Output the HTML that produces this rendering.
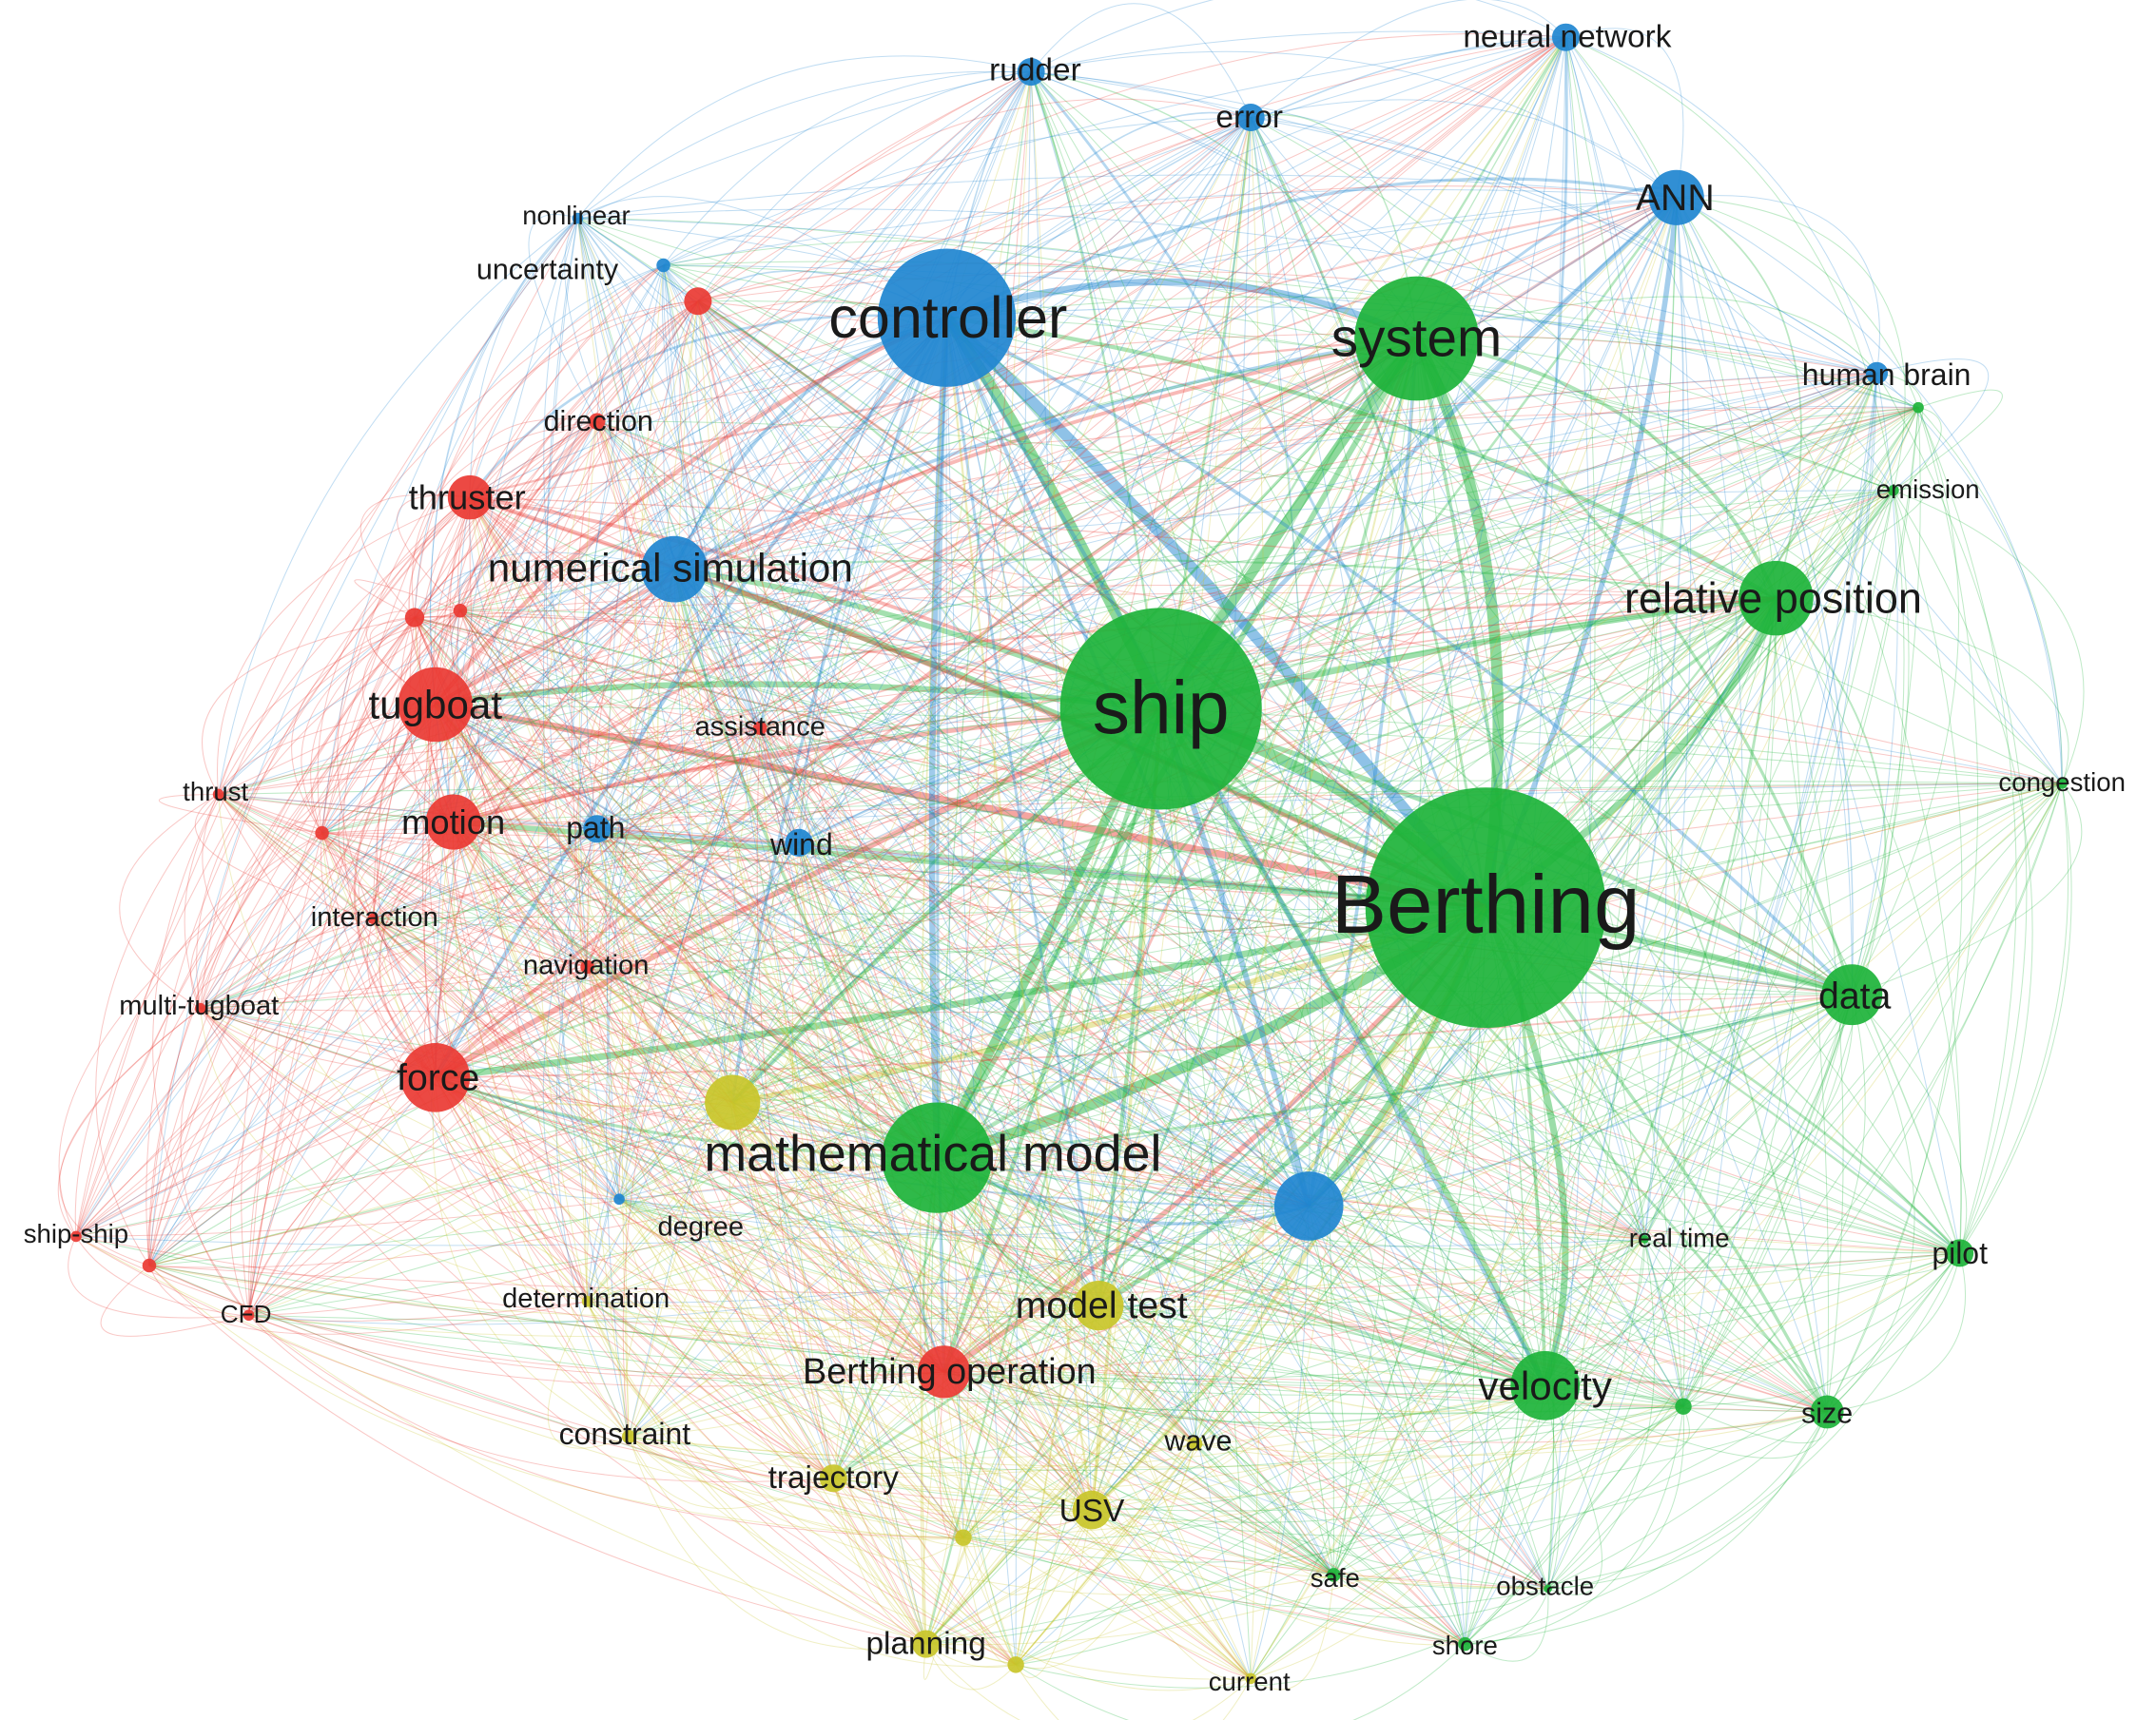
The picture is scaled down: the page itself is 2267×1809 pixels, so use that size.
<!DOCTYPE html>
<html><head><meta charset="utf-8">
<style>
html,body{margin:0;padding:0;background:#fff;width:2267px;height:1809px;overflow:hidden;}
svg{display:block;overflow:hidden;}
text{font-family:"Liberation Sans","DejaVu Sans",sans-serif;fill:#1a1a1a;text-anchor:middle;dominant-baseline:central;}
</style></head><body>
<svg id="s" width="2267" height="1809" viewBox="0 0 1560 1245" preserveAspectRatio="none" xmlns="http://www.w3.org/2000/svg">
<rect width="1560" height="1245" fill="#fff"/>
<g id="edges" fill="none"></g>
<g id="nodes"></g>
<g id="labels"></g>
</svg>
<script>
var C={g:"#1db33a",b:"#1f86d0",r:"#ea3a33",y:"#c9c62a"};
var N=[
[1075,657,87,"g"],[840,513,73,"g"],[1025,245,45,"g"],[678,838,40,"g"],[1285,433,27,"g"],[1340,720,22,"g"],[1118,1003,25,"g"],[1418,907,10,"g"],[1322,1022,12,"g"],[965,1140,5,"g"],[1060,1190,5,"g"],[1218,1018,6,"g"],[1492,567,4,"g"],[1370,355,4,"g"],[1388,295,4,"g"],[1120,1150,3,"g"],[1190,897,3,"g"],
[685,230,50,"b"],[488,412,24,"b"],[1133,27,10,"b"],[1213,143,20,"b"],[905,85,10,"b"],[746,52,10,"b"],[1358,270,8,"b"],[480,192,5,"b"],[418,158,4,"b"],[432,600,10,"b"],[578,610,10,"b"],[947,873,25,"b"],[448,868,4,"b"],
[340,360,16,"r"],[315,510,27,"r"],[328,595,20,"r"],[315,780,25,"r"],[432,305,6,"r"],[505,218,10,"r"],[300,447,7,"r"],[333,442,5,"r"],[158,575,4,"r"],[233,603,5,"r"],[270,665,4,"r"],[425,700,5,"r"],[145,730,4,"r"],[55,895,4,"r"],[108,916,5,"r"],[180,952,4,"r"],[683,993,19,"r"],[550,527,5,"r"],
[530,798,20,"y"],[795,945,18,"y"],[790,1093,14,"y"],[603,1070,10,"y"],[670,1190,10,"y"],[735,1205,6,"y"],[697,1113,6,"y"],[455,1040,5,"y"],[865,1045,5,"y"],[905,1215,4,"y"],[425,942,4,"y"]
];
var L=[["Berthing",1075,655,60],["ship",840,512,54],["controller",686,230,42],["system",1025,245,39],["mathematical model",675,835,37],["relative position",1283,433,31],["numerical simulation",485,411,29],["tugboat",315,510,29],["velocity",1118,1003,29],["data",1342,721,27],["force",317,780,27],["motion",328,595,25],["thruster",338,360,25],["model test",797,945,27],["Berthing operation",687,993,26],["ANN",1212,143,27],["neural network",1134,27,23],["rudder",749,51,23],["error",904,85,23],["human brain",1365,271,22],["emission",1395,354,19],["congestion",1492,566,19],["pilot",1418,907,22],["size",1322,1023,21],["real time",1215,896,19],["safe",966,1142,19],["obstacle",1118,1148,19],["shore",1060,1191,19],["current",904,1217,19],["planning",670,1190,23],["USV",790,1094,23],["wave",867,1043,21],["trajectory",603,1070,23],["constraint",452,1038,22],["determination",424,940,20],["degree",507,888,20],["CFD",178,951,18],["ship-ship",55,893,19],["multi-tugboat",144,728,20],["navigation",424,699,20],["interaction",271,664,20],["thrust",156,573,19],["path",431,599,22],["wind",580,611,22],["assistance",550,526,20],["direction",433,305,21],["uncertainty",396,195,21],["nonlinear",417,156,19]];
var ns="http://www.w3.org/2000/svg",E=document.getElementById("edges"),seed=7;
function rnd(){seed=(seed*16807)%2147483647;return seed/2147483647;}
var cx=780,cy=640;
for(var i=0;i<N.length;i++)for(var j=i+1;j<N.length;j++){
 var a=N[i],b=N[j];var w=(a[2]+b[2]);var p=Math.min(0.97,0.35+w/50);
 if(a[3]==b[3])p=Math.min(1,p+0.3);
 if(rnd()>p)continue;
 var mx=(a[0]+b[0])/2,my=(a[1]+b[1])/2,dx=mx-cx,dy=my-cy;
 var k=0.08+rnd()*0.18;var qx=mx+dx*k,qy=my+dy*k;
 var path=document.createElementNS(ns,"path");
 path.setAttribute("d","M"+a[0]+","+a[1]+" Q"+qx+","+qy+" "+b[0]+","+b[1]);
 var col=(a[2]>=b[2]?a:b)[3];if(rnd()<0.5)col=(a[2]<b[2]?a:b)[3];
 path.setAttribute("stroke",C[col]);
 var sw=Math.max(0.7,Math.min(8,a[2]*b[2]/450));
 path.setAttribute("stroke-width",sw);
 path.setAttribute("stroke-opacity",0.25+Math.min(0.25,sw/25));
 E.appendChild(path);
}
var G=document.getElementById("nodes");
N.forEach(function(n){var c=document.createElementNS(ns,"circle");c.setAttribute("cx",n[0]);c.setAttribute("cy",n[1]);c.setAttribute("r",n[2]);c.setAttribute("fill",C[n[3]]);c.setAttribute("fill-opacity",0.92);G.appendChild(c);});
var T=document.getElementById("labels");
L.forEach(function(l){var t=document.createElementNS(ns,"text");t.setAttribute("x",l[1]);t.setAttribute("y",l[2]);t.setAttribute("font-size",l[3]);t.textContent=l[0];T.appendChild(t);});
</script>
</body></html>
